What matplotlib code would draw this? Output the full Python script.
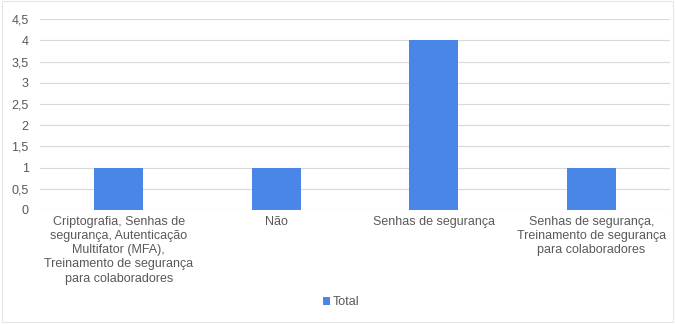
import matplotlib.pyplot as plt
from matplotlib.patches import Rectangle

categories = [
    "Criptografia, Senhas de\nsegurança, Autenticação\nMultifator (MFA),\nTreinamento de segurança\npara colaboradores",
    "Não",
    "Senhas de segurança",
    "Senhas de segurança,\nTreinamento de segurança\npara colaboradores",
]
totals = [1, 1, 4, 1]
yticks = [0, 0.5, 1, 1.5, 2, 2.5, 3, 3.5, 4, 4.5]
ytick_labels = ["0", "0,5", "1", "1,5", "2", "2,5", "3", "3,5", "4", "4,5"]

text_color = "#595959"
bar_color = "#4a86e8"
plt.rcParams["font.family"] = ["Liberation Sans", "DejaVu Sans"]

fig = plt.figure(figsize=(6.75, 3.24), dpi=100)
ax = fig.add_axes([0.059, 0.352, 0.934, 0.589])

x = range(len(categories))
ax.bar(x, totals, width=0.31, color=bar_color, label="Total", zorder=2)
ax.set_xlim(-0.5, len(categories) - 0.5)
ax.set_ylim(0, 4.5)
ax.set_yticks(yticks)
ax.set_yticklabels(ytick_labels, fontsize=9, color=text_color)
ax.set_xticks(list(x))
ax.set_xticklabels(categories, fontsize=9, color=text_color, linespacing=1.25, va="top")
ax.tick_params(axis="both", length=0, pad=4)
ax.tick_params(axis="y", pad=8)
ax.grid(axis="y", color="#d9d9d9", linewidth=0.8, zorder=0)
for s in ax.spines.values():
    s.set_visible(False)

fig.legend(loc="center", bbox_to_anchor=(0.505, 0.068), frameon=False, fontsize=9,
           labelcolor=text_color, handlelength=0.6, handleheight=0.6, handletextpad=0.2)

# faint frame around the chart
fig.patches.append(Rectangle((0.003, 0.006), 0.994, 0.99, transform=fig.transFigure,
                             fill=False, edgecolor="#e6e6e6", linewidth=0.8))

fig.savefig("out.png", dpi=100, facecolor="white")
